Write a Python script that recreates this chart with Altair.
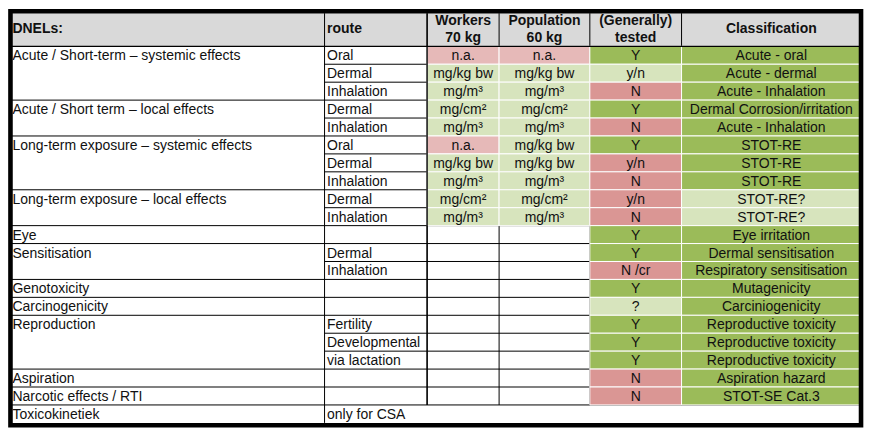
import altair as alt
import pandas as pd

# ---------------- data ----------------
dnel_groups = [
    "Acute / Short-term – systemic effects",
    "Acute / Short term – local effects",
    "Long-term exposure – systemic effects",
    "Long-term exposure – local effects",
    "Eye",
    "Sensitisation",
    "Genotoxicity",
    "Carcinogenicity",
    "Reproduction",
    "Aspiration",
    "Narcotic effects / RTI",
    "Toxicokinetiek",
]
dnel_spans = [3, 2, 3, 2, 1, 2, 1, 1, 3, 1, 1, 1]

routes = ["Oral", "Dermal", "Inhalation", "Dermal", "Inhalation",
          "Oral", "Dermal", "Inhalation", "Dermal", "Inhalation",
          "", "Dermal", "Inhalation", "", "",
          "Fertility", "Developmental", "via lactation", "", "",
          "only for CSA"]

workers = ["n.a.", "mg/kg bw", "mg/m³", "mg/cm²", "mg/m³",
           "n.a.", "mg/kg bw", "mg/m³", "mg/cm²", "mg/m³",
           "", "", "", "", "", "", "", "", "", ""]
population = ["n.a.", "mg/kg bw", "mg/m³", "mg/cm²", "mg/m³",
              "mg/kg bw", "mg/kg bw", "mg/m³", "mg/cm²", "mg/m³",
              "", "", "", "", "", "", "", "", "", ""]

tested = ["Y", "y/n", "N", "Y", "N", "Y", "y/n", "N", "y/n", "N",
          "Y", "Y", "N /cr", "Y", "?", "Y", "Y", "Y", "N", "N"]
tested_status = ["yes", "partly", "no", "yes", "no", "yes", "no", "no", "no", "no",
                 "yes", "yes", "no", "yes", "partly", "yes", "yes", "yes", "no", "no"]

classification = ["Acute - oral", "Acute - dermal", "Acute - Inhalation",
                  "Dermal Corrosion/irritation", "Acute - Inhalation",
                  "STOT-RE", "STOT-RE", "STOT-RE", "STOT-RE?", "STOT-RE?",
                  "Eye irritation", "Dermal sensitisation", "Respiratory sensitisation",
                  "Mutagenicity", "Carciniogenicity",
                  "Reproductive toxicity", "Reproductive toxicity", "Reproductive toxicity",
                  "Aspiration hazard", "STOT-SE Cat.3"]
class_status = ["yes", "yes", "yes", "yes", "yes", "yes", "yes", "yes", "partly", "partly",
                "yes", "yes", "yes", "yes", "yes", "yes", "yes", "yes", "yes", "yes"]

header_left = ["DNELs:", "route"]
header_center = [["Workers", "70 kg"], ["Population", "60 kg"],
                 ["(Generally)", "tested"], ["Classification"]]

# ---------------- layout & style ----------------
COL_EDGES = [5, 324, 428, 501, 593, 686, 868]
HEADER_TOP, HEADER_BOTTOM, TABLE_BOTTOM = 8, 42, 428
N_ROWS = len(routes)
ROW_H = (TABLE_BOTTOM - HEADER_BOTTOM) / N_ROWS
FONT = "Liberation Sans"
FS = 14
COLORS = {
    "header": "#d9d9d9",
    "yes": "#9bbb59",
    "partly": "#d7e4bd",
    "no": "#da9694",
    "na": "#e6b9b8",
    "unit": "#d7e4bd",
}


def row_top(i):
    return HEADER_BOTTOM + i * ROW_H


def row_mid(i):
    return HEADER_BOTTOM + (i + 0.5) * ROW_H


def col_mid(c):
    return (COL_EDGES[c] + COL_EDGES[c + 1]) / 2


# ---- filled cells ----
cells = []
for i in range(len(tested)):
    for c, vals in ((2, workers), (3, population)):
        if vals[i]:
            st = "na" if vals[i] == "n.a." else "unit"
            cells.append(dict(x=COL_EDGES[c], x2=COL_EDGES[c + 1], y=row_top(i),
                              y2=row_top(i + 1), fill=COLORS[st]))
    cells.append(dict(x=COL_EDGES[4], x2=COL_EDGES[5], y=row_top(i), y2=row_top(i + 1),
                      fill=COLORS[tested_status[i]]))
    cells.append(dict(x=COL_EDGES[5], x2=COL_EDGES[6], y=row_top(i), y2=row_top(i + 1),
                      fill=COLORS[class_status[i]]))
cells_df = pd.DataFrame(cells)

header_df = pd.DataFrame([dict(x=COL_EDGES[0], x2=COL_EDGES[-1], y=HEADER_TOP,
                               y2=HEADER_BOTTOM, fill=COLORS["header"])])

# ---- grid lines ----
lines = []
lines.append(dict(x=COL_EDGES[1], x2=COL_EDGES[1], y=HEADER_TOP, y2=TABLE_BOTTOM))
for e in COL_EDGES[2:6]:
    lines.append(dict(x=e, x2=e, y=HEADER_TOP, y2=row_top(N_ROWS - 1)))
group_bounds = set()
acc = 0
for s in dnel_spans:
    acc += s
    group_bounds.add(acc)
for k in range(1, N_ROWS):
    lines.append(dict(x=COL_EDGES[1], x2=COL_EDGES[-1], y=row_top(k), y2=row_top(k)))
    if k in group_bounds:
        lines.append(dict(x=COL_EDGES[0], x2=COL_EDGES[1], y=row_top(k), y2=row_top(k)))
lines_df = pd.DataFrame(lines)

top_lines_df = pd.DataFrame([
    dict(x=COL_EDGES[0], x2=COL_EDGES[-1], y=HEADER_BOTTOM, y2=HEADER_BOTTOM),
    dict(x=COL_EDGES[2], x2=COL_EDGES[2], y=HEADER_TOP, y2=row_top(N_ROWS - 1)),
])

border_df = pd.DataFrame([dict(x=5.5, x2=868, y=6, y2=430.5)])

# ---- texts ----
left_txt = []
start = 0
for g, s in zip(dnel_groups, dnel_spans):
    left_txt.append(dict(x=7.5, y=row_mid(start), text=g))
    start += s
for i, r in enumerate(routes):
    if r:
        left_txt.append(dict(x=326.5, y=row_mid(i), text=r))
left_df = pd.DataFrame(left_txt)

center_txt = []
for i in range(len(tested)):
    for c, vals in ((2, workers), (3, population), (4, tested), (5, classification)):
        if vals[i]:
            center_txt.append(dict(x=col_mid(c), y=row_mid(i), text=vals[i]))
center_df = pd.DataFrame(center_txt)

head_txt = [dict(x=7.5, y=24, text=header_left[0], align="left"),
            dict(x=326.5, y=24.5, text=header_left[1], align="left")]
for c, lns in zip(range(2, 6), header_center):
    if len(lns) == 2:
        head_txt.append(dict(x=col_mid(c), y=16, text=lns[0], align="center"))
        head_txt.append(dict(x=col_mid(c), y=33, text=lns[1], align="center"))
    else:
        head_txt.append(dict(x=col_mid(c), y=24, text=lns[0], align="center"))
head_df = pd.DataFrame(head_txt)

# ---------------- chart ----------------
xs = alt.Scale(domain=[3, 870], nice=False, zero=False)
ys = alt.Scale(domain=[4, 433], reverse=True, nice=False, zero=False)


def X(f="x"):
    return alt.X(f + ":Q", scale=xs, axis=None)


def Y(f="y"):
    return alt.Y(f + ":Q", scale=ys, axis=None)


def rects(df, **kw):
    return alt.Chart(df).mark_rect(**kw).encode(
        x=X(), x2="x2:Q", y=Y(), y2="y2:Q",
        color=alt.Color("fill:N", scale=None, legend=None))


def rules(df, width):
    return alt.Chart(df).mark_rule(color="black", strokeWidth=width).encode(
        x=X(), x2="x2:Q", y=Y(), y2="y2:Q")


header_layer = rects(header_df)
grid_layer = rules(lines_df, 1)
cell_layer = rects(cells_df, stroke="white", strokeWidth=1)
top_layer = rules(top_lines_df, 1.3)
border_layer = alt.Chart(border_df).mark_rect(
    fillOpacity=0, stroke="black", strokeWidth=4.6).encode(
    x=X(), x2="x2:Q", y=Y(), y2="y2:Q")

left_layer = alt.Chart(left_df).mark_text(
    align="left", baseline="middle", dy=1, font=FONT, fontSize=FS,
    color="#111111").encode(x=X(), y=Y(), text="text:N")
center_layer = alt.Chart(center_df).mark_text(
    align="center", baseline="middle", dy=1, font=FONT, fontSize=FS,
    color="#111111").encode(x=X(), y=Y(), text="text:N")
head_left = alt.Chart(head_df[head_df["align"] == "left"]).mark_text(
    align="left", baseline="middle", font=FONT, fontSize=FS, fontWeight="bold",
    color="#111111").encode(x=X(), y=Y(), text="text:N")
head_center = alt.Chart(head_df[head_df["align"] == "center"]).mark_text(
    align="center", baseline="middle", font=FONT, fontSize=FS, fontWeight="bold",
    color="#111111").encode(x=X(), y=Y(), text="text:N")

chart = alt.layer(
    header_layer, grid_layer, cell_layer, top_layer, border_layer,
    left_layer, center_layer, head_left, head_center
).properties(
    width=856, height=419, padding=0, background="white"
).configure_view(strokeWidth=0)

chart.save("out.html", embed_options={"renderer": "svg", "actions": False})
